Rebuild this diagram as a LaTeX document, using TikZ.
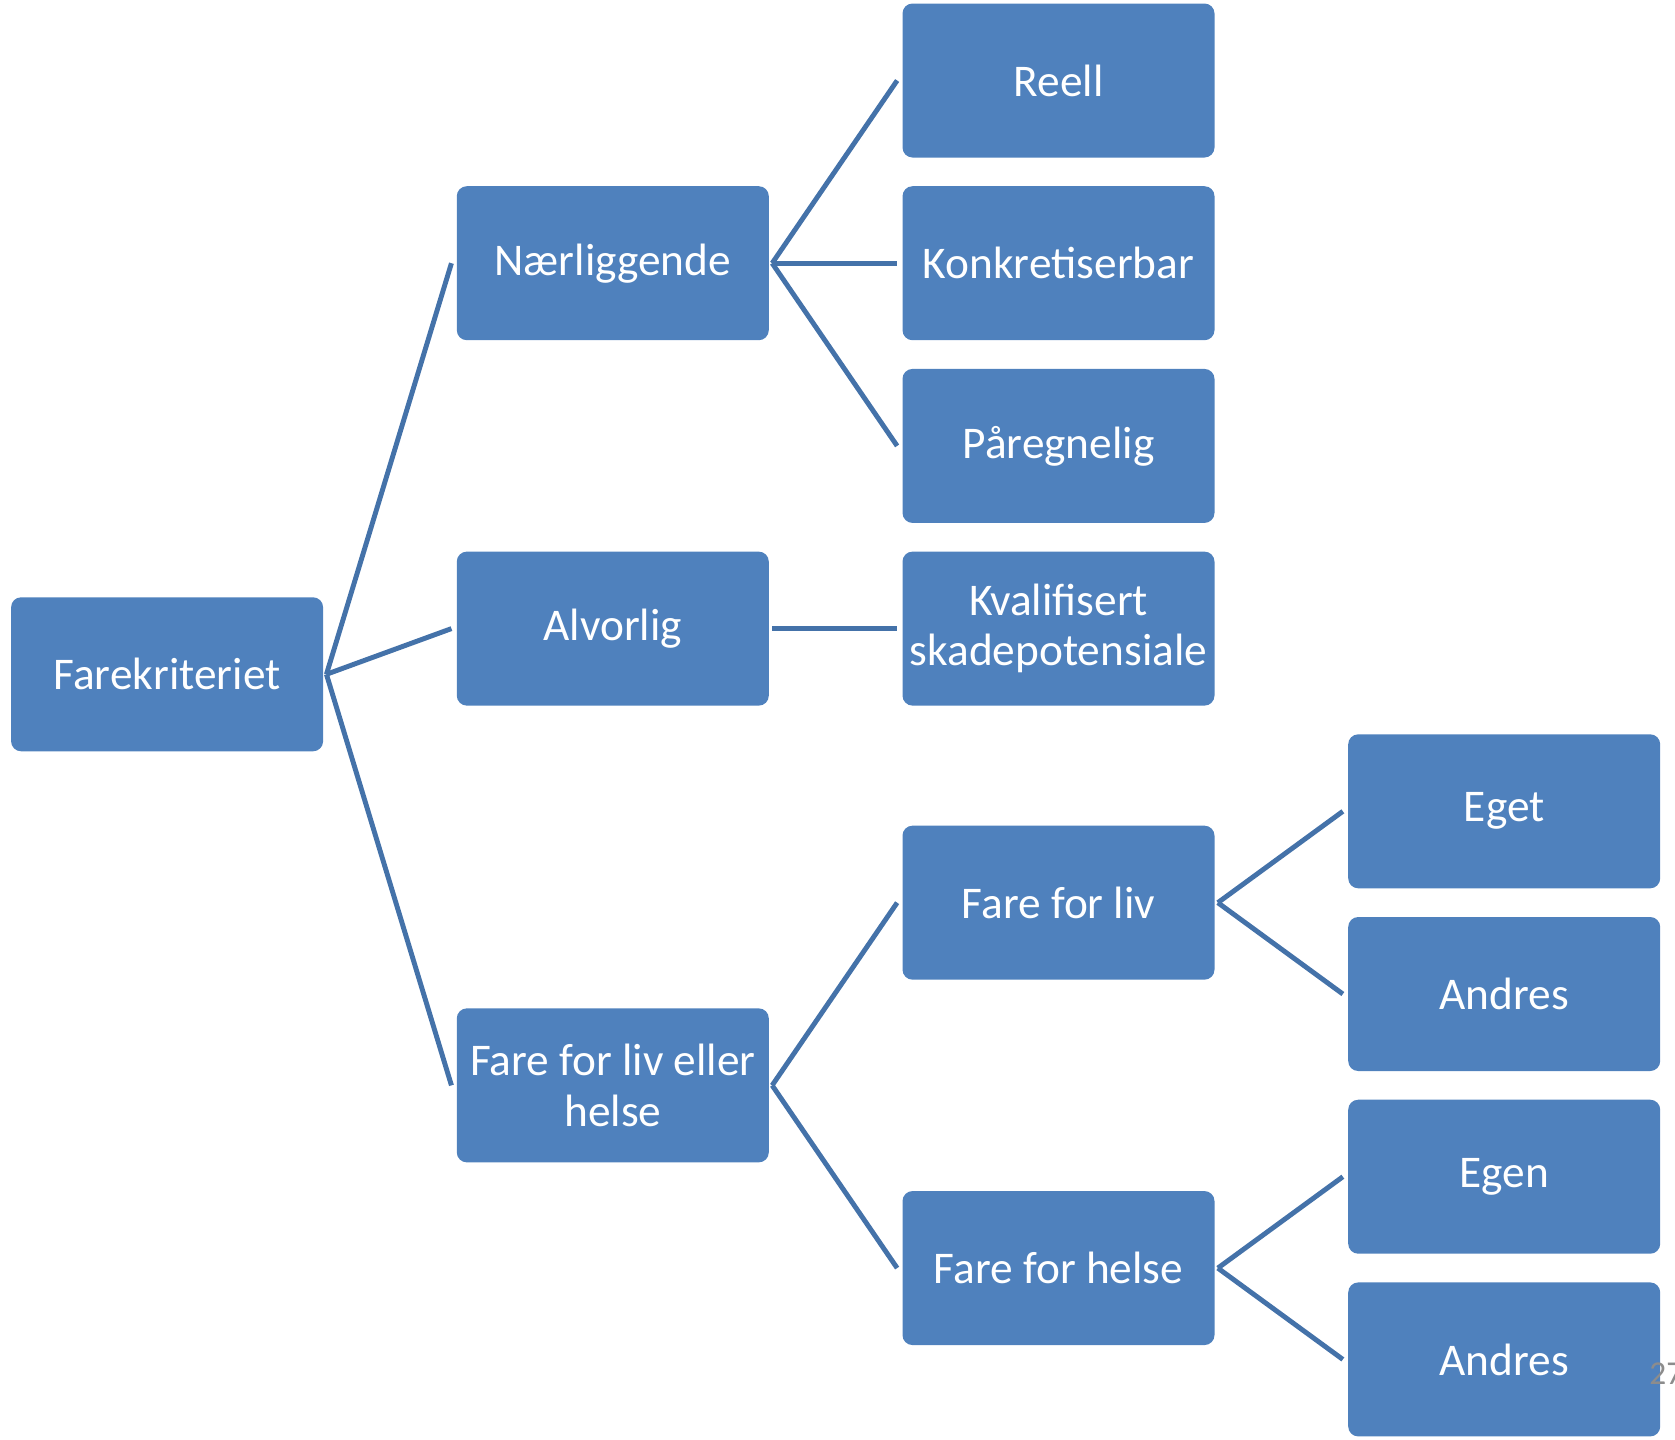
\documentclass[tikz,border=0pt]{standalone}
\usepackage{fontspec}
\setmainfont{Carlito}
\usepackage{xcolor}
\usetikzlibrary{positioning, calc}

\definecolor{boxblue}{HTML}{4F81BD}
\definecolor{lineblue}{HTML}{4472A9}
\definecolor{numgray}{HTML}{8C8C8C}

\begin{document}
\begin{tikzpicture}[
  node distance=0.56cm and 2.66cm,
  box/.style={rectangle, fill=boxblue, rounded corners=0.2cm,
              minimum width=6.24cm, minimum height=3.08cm, inner sep=2pt,
              align=center, text=white,
              font=\fontsize{25.8}{28.6}\selectfont},
  link/.style={draw=lineblue, line width=2.8pt},
  pagenum/.style={text=numgray, inner sep=0pt, font=\fontsize{19}{22}\selectfont}
]
\useasboundingbox (0,0) rectangle (33.5,-28.8);
\clip (0,0) rectangle (33.5,-28.8);

% second level, upper part
\node[box] at (21.17,-1.61) (reell) {Reell};
\node[box, below=of reell] (konkret) {Konkretiserbar};
\node[box, below=of konkret] (paregn) {Påregnelig};
\node[box, below=of paregn] (kvalif) {Kvalifisert\\skadepotensiale};
\node[box, left=of konkret] (naerl) {Nærliggende};
\node[box, left=of kvalif] (alvorl) {Alvorlig};

% third level
\node[box, below right=0.56cm and 2.66cm of kvalif] (eget) {Eget};
\node[box, below=of eget] (andres1) {Andres};
\node[box, below=of andres1] (egen) {Egen};
\node[box, below=of egen] (andres2) {Andres};

\coordinate (livpos) at ($(eget.west)!0.5!(andres1.west)$);
\coordinate (helsepos) at ($(egen.west)!0.5!(andres2.west)$);
\node[box, left=of livpos] (farliv) {Fare for liv};
\node[box, left=of helsepos] (farhelse) {Fare for helse};

\coordinate (livhelsemid) at ($(farliv)!0.5!(farhelse)$);
\coordinate (livhelsepos) at (farliv.west |- livhelsemid);
\node[box, left=of livhelsepos] (livhelse) {Fare for liv eller\\helse};

\coordinate (rootmid) at ($(naerl)!0.5!(livhelse)$);
\coordinate (rootpos) at (naerl.west |- rootmid);
\node[box, left=of rootpos] (farekrit) {Farekriteriet};

% connectors
\draw[link] ([xshift=0.06cm]farekrit.east) -- ([xshift=-0.1cm]naerl.west);
\draw[link] ([xshift=0.06cm]farekrit.east) -- ([xshift=-0.1cm]alvorl.west);
\draw[link] ([xshift=0.06cm]farekrit.east) -- ([xshift=-0.1cm]livhelse.west);
\draw[link] ([xshift=0.06cm]naerl.east) -- ([xshift=-0.1cm]reell.west);
\draw[link] ([xshift=0.06cm]naerl.east) -- ([xshift=-0.1cm]konkret.west);
\draw[link] ([xshift=0.06cm]naerl.east) -- ([xshift=-0.1cm]paregn.west);
\draw[link] ([xshift=0.06cm]alvorl.east) -- ([xshift=-0.1cm]kvalif.west);
\draw[link] ([xshift=0.06cm]livhelse.east) -- ([xshift=-0.1cm]farliv.west);
\draw[link] ([xshift=0.06cm]livhelse.east) -- ([xshift=-0.1cm]farhelse.west);
\draw[link] ([xshift=0.06cm]farliv.east) -- ([xshift=-0.1cm]eget.west);
\draw[link] ([xshift=0.06cm]farliv.east) -- ([xshift=-0.1cm]andres1.west);
\draw[link] ([xshift=0.06cm]farhelse.east) -- ([xshift=-0.1cm]egen.west);
\draw[link] ([xshift=0.06cm]farhelse.east) -- ([xshift=-0.1cm]andres2.west);

\node[pagenum, anchor=base west] at (32.98,-27.68) (pagenr) {27};
\end{tikzpicture}
\end{document}
